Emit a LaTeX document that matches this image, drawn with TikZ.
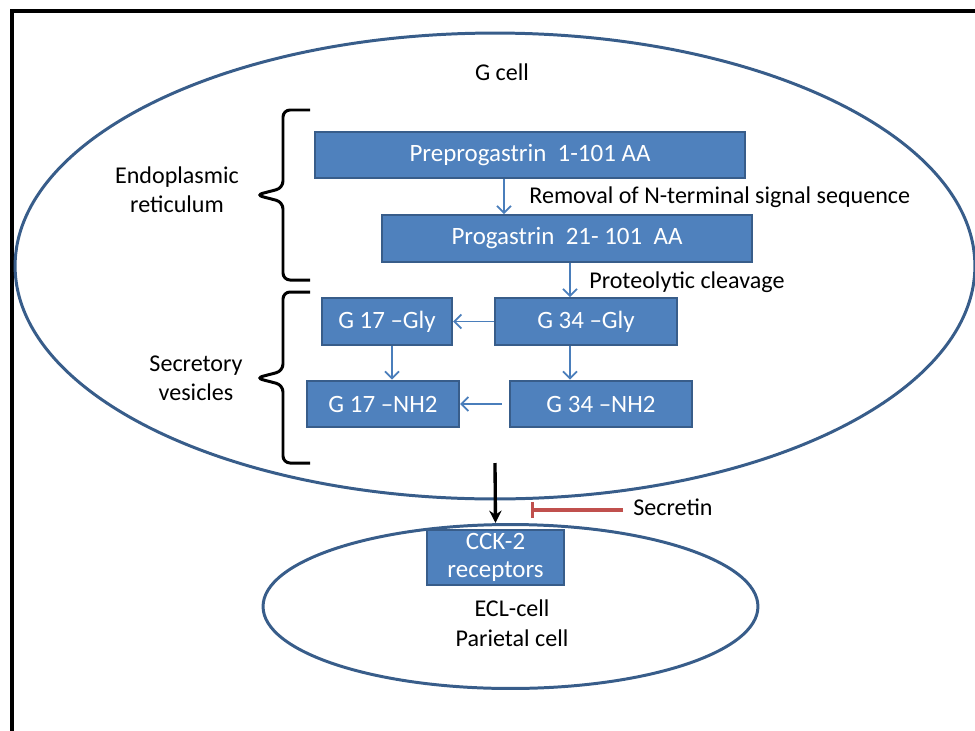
\documentclass[tikz,border=0pt]{standalone}
\usepackage{fontspec}
\setmainfont{Carlito}
\usetikzlibrary{arrows.meta,positioning}
\definecolor{boxfill}{HTML}{4F81BD}
\definecolor{boxline}{HTML}{385D8A}
\definecolor{arrowblue}{HTML}{4A7EBB}
\definecolor{inhibred}{HTML}{C0504D}

\tikzset{
  txt/.style={font=\fontsize{13.7}{16.6}\selectfont, inner sep=0pt},
  stepbox/.style={txt, font=\fontsize{14.2}{16}\selectfont, draw=boxline, line width=1.2pt, fill=boxfill, text=white, minimum height=0.93cm},
  flow/.style={draw=arrowblue, line width=1pt, -{Straight Barb[length=4pt,width=8pt]}},
  cellwall/.style={draw=boxline, line width=1.7pt},
  bracket/.style={draw=black, line width=1.7pt, rounded corners=4pt},
}

\begin{document}
\begin{tikzpicture}[x=0.02cm, y=-0.02cm]
  \useasboundingbox (0,0) rectangle (975,731);
  % frame
  \draw[line width=2.2pt] (12,11) rectangle (995,750);

  % cells
  \draw[cellwall] (495,266) ellipse [x radius=9.6cm, y radius=4.66cm];
  \draw[cellwall] (510.5,606.5) ellipse [x radius=4.95cm, y radius=1.64cm];
  \node[txt] (gcell) at (502,72) {G cell};

  % gastrin processing
  \node[stepbox, minimum width=8.6cm] (pre) at (530,155) {Preprogastrin\ \ 1-101 AA};
  \node[stepbox, minimum width=7.4cm] (pro) at (567,238.5) {Progastrin\ \ 21- 101\ \ AA};
  \node[stepbox, minimum width=2.6cm] (g17g) at (387,321.5) {G 17 –Gly};
  \node[stepbox, minimum width=3.64cm] (g34g) at (586,321.5) {G 34 –Gly};
  \node[stepbox, minimum width=3.04cm] (g17n) at (383,404) {G 17 –NH2};
  \node[stepbox, minimum width=3.64cm] (g34n) at (601,404) {G 34 –NH2};
  \node[stepbox, minimum width=2.74cm, minimum height=1.1cm, align=center,
        font=\fontsize{14.2}{15.5}\selectfont] (cck) at (495.5,557.5) {CCK-2\\receptors};

  \coordinate (xa) at (504,0);
  \coordinate (xb) at (570,0);
  \coordinate (xc) at (392,0);
  \draw[flow] (pre.south -| xa) -- (pro.north -| xa);
  \draw[flow] (pro.south -| xb) -- (g34g.north -| xb);
  \draw[flow] (g34g.west) -- (g17g.east);
  \draw[flow] (g17g.south -| xc) -- (g17n.north -| xc);
  \draw[flow] (g34g.south -| xb) -- (g34n.north -| xb);
  \draw[flow] ([xshift=-0.14cm]g34n.west) -- (g17n.east);

  \node[txt, anchor=west] (removal) at (529,197) {Removal of N-terminal signal sequence};
  \node[txt, anchor=west] (cleave) at (589,282) {Proteolytic cleavage};

  % compartments
  \draw[bracket] (310,110) -- (283,110) -- (283,188) -- (256,195) -- (283,202) -- (283,280) -- (310,280);
  \draw[bracket] (310,292) -- (283,292) -- (283,371) -- (256,378) -- (283,385) -- (283,463) -- (310,463);
  \node[txt, align=center] (er) at (177,190) {Endoplasmic\\reticulum};
  \node[txt, align=center] (sv) at (196,378) {Secretory\\vesicles};

  % release and inhibition
  \coordinate (gout) at (495,463);
  \draw[line width=1.9pt, -{Stealth[length=7pt,width=7pt]}] (gout) -- ([yshift=0.12cm]cck.north);
  \node[txt, anchor=west] (sec) at (633,507) {Secretin};
  \coordinate (block) at (531,510);
  \draw[draw=inhibred, line width=1.9pt, -{Bar[width=9pt]}] (sec.west |- block) ++(-0.2cm,0) -- (block);

  \node[txt, align=center, font=\fontsize{13.7}{17}\selectfont] (target) at (512,623) {ECL-cell\\Parietal cell};
\end{tikzpicture}
\end{document}
